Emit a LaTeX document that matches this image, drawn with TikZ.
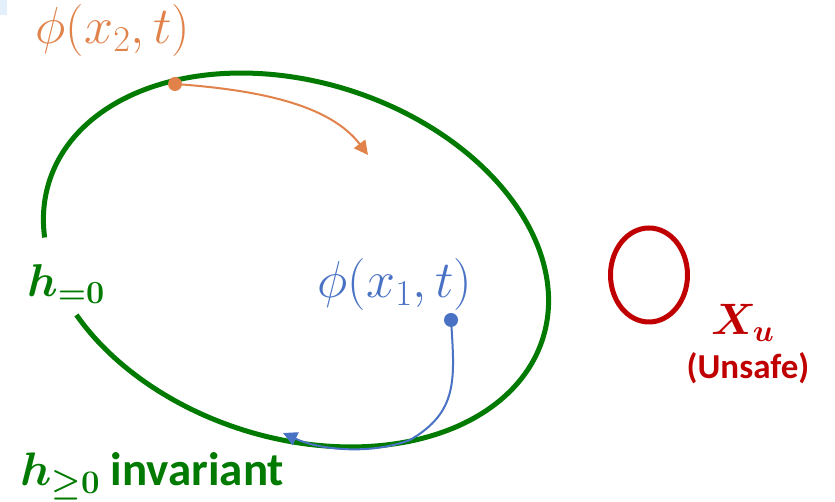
\RequirePackage{fix-cm}
\documentclass[tikz,border=0pt]{standalone}
\usepackage{amsmath,amssymb,bm}
\usepackage[no-math]{fontspec}
\setmainfont{Carlito}
\usetikzlibrary{arrows.meta,shapes.geometric}
\definecolor{grn}{HTML}{007A00}
\definecolor{org}{HTML}{E0824A}
\definecolor{blu}{HTML}{4A72C4}
\definecolor{rd}{HTML}{C00000}
\definecolor{lightbg}{HTML}{E3EFFA}
\tikzset{
  dotnode/.style={circle, inner sep=0pt, minimum size=14pt},
  traj/.style={line width=2pt, -{Triangle[length=14pt,width=14pt]}},
  lbl/.style={inner sep=0pt},
}
\begin{document}
\begin{tikzpicture}[x=1pt,y=1pt]
\useasboundingbox (0,0) rectangle (835,502);
\fill[lightbg] (0,487) rectangle (7,502);
% green invariant set boundary (with gap at the left)
\draw[grn, line width=5pt] plot[domain=222:558, samples=240, smooth]
  ({296 + 259*cos(\x)*cos(-17.7) - 178*sin(\x)*sin(-17.7)},
   {242 + 259*cos(\x)*sin(-17.7) + 178*sin(\x)*cos(-17.7)});
% unsafe set
\node[draw=rd, line width=5pt, ellipse, minimum width=77pt, minimum height=94pt, inner sep=0pt] (xu) at (649,227) {};
% labels
\node[lbl, text=org, font=\fontsize{52}{56}\selectfont] (l2) at (113,471) {$\phi(x_2,t)$};
\node[lbl, text=blu, font=\fontsize{52}{56}\selectfont] (l1) at (395,217) {$\phi(x_1,t)$};
\node[lbl, anchor=base west, text=grn, font=\fontsize{46}{50}\selectfont] (h0) at (27,205) {$\boldsymbol{h_{=0}}$};
\node[lbl, anchor=base west, text=grn, font=\fontsize{47}{50}\selectfont\bfseries] (hg) at (20,16) {$\boldsymbol{h}_{\boldsymbol{\geq}\mathbf{0}}$ invariant};
\node[lbl, anchor=base west, text=rd, font=\fontsize{44}{50}\selectfont] (xl) at (711,167) {$\boldsymbol{X_u}$};
\node[lbl, text=rd, font=\fontsize{35}{40}\selectfont\bfseries] (us) at (748,134) {(Unsafe)};
% trajectories
\node[dotnode] (x2) at (175,418) {};
\coordinate (e2) at (368,347);
\draw[org, traj] (x2.center) .. controls (260,412) and (330,397) .. (e2);
\node[dotnode, fill=org] at (x2) {};
\node[dotnode] (x1) at (451,182) {};
\coordinate (e1) at (283,69);
\draw[blu, traj] (x1.center) .. controls (455,122) and (458,90) .. (410,62) .. controls (370,47) and (320,52) .. (e1);
\node[dotnode, fill=blu] at (x1) {};
\end{tikzpicture}
\end{document}
